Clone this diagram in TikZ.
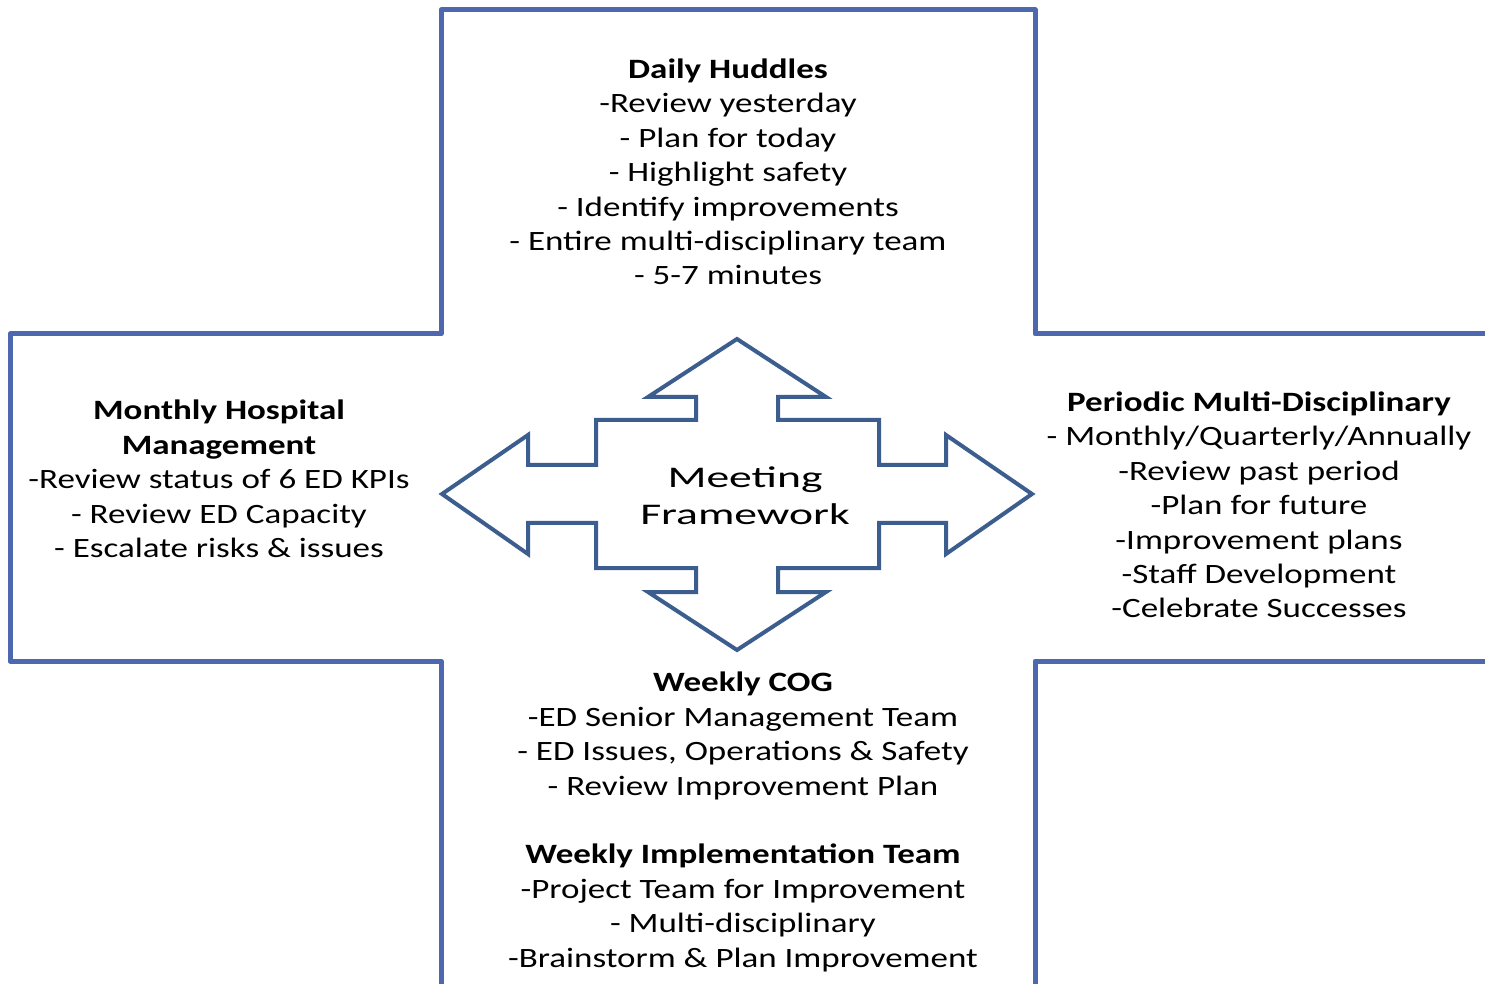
\documentclass[tikz,border=0pt]{standalone}
\usepackage{fontspec}
\setmainfont{Carlito}[FakeStretch=1.25]
\newfontfamily\midfont{Carlito}[FakeStretch=1.52]
\definecolor{crossblue}{RGB}{78,104,176}
\definecolor{arrowblue}{RGB}{60,94,142}
\begin{document}
\begin{tikzpicture}[x=0.5pt,y=-0.5pt,
  crossline/.style={draw=crossblue,line width=2.5pt,line join=round},
  arrowline/.style={draw=arrowblue,line width=2pt,line join=miter,fill=white},
  txt/.style={align=center,inner sep=0pt,font=\fontsize{14}{17.2}\selectfont},
  midtxt/.style={align=center,inner sep=0pt,font=\midfont\fontsize{15}{18.5}\selectfont}]
\useasboundingbox (0,0) rectangle (1485,984);
\clip (0,0) rectangle (1485,984);
% cross outline
\draw[crossline] (1495,334) -- (1035,334) -- (1035,10) -- (441,10) -- (441,334) -- (10,334) -- (10,661) -- (441,661) -- (441,995);
\draw[crossline] (1495,661) -- (1035,661) -- (1035,995);
% four-way arrow
\draw[arrowline] (737,339) -- (826,397) -- (778,397) -- (778,420) -- (879,420) -- (879,465) -- (946,465) -- (946,435)
  -- (1032,494) -- (946,554) -- (946,523) -- (879,523) -- (879,568) -- (778,568) -- (778,592) -- (826,592)
  -- (737,650) -- (648,592) -- (696,592) -- (696,568) -- (596,568) -- (596,523) -- (528,523) -- (528,554)
  -- (442,494) -- (528,435) -- (528,465) -- (596,465) -- (596,420) -- (696,420) -- (696,397) -- (648,397) -- cycle;
% texts
\node[txt] (top) at (728,172) {\textbf{Daily Huddles}\\-Review yesterday\\- Plan for today\\- Highlight safety\\- Identify improvements\\- Entire multi-disciplinary team\\- 5-7 minutes};
\node[txt] (left) at (219,479) {\textbf{Monthly Hospital}\\\textbf{Management}\\-Review status of 6 ED KPIs\\- Review ED Capacity\\- Escalate risks \& issues};
\node[txt] (right) at (1259,505) {\textbf{Periodic Multi-Disciplinary}\\- Monthly/Quarterly/Annually\\-Review past period\\-Plan for future\\-Improvement plans\\-Staff Development\\-Celebrate Successes};
\node[midtxt] (mid) at (745,496) {Meeting\\Framework};
\node[txt] (cog) at (743,736) {\textbf{Weekly COG}\\-ED Senior Management Team\\- ED Issues, Operations \& Safety\\- Review Improvement Plan};
\node[txt] (impl) at (743,908) {\textbf{Weekly Implementation Team}\\-Project Team for Improvement\\- Multi-disciplinary\\-Brainstorm \& Plan Improvement};
\end{tikzpicture}
\end{document}
